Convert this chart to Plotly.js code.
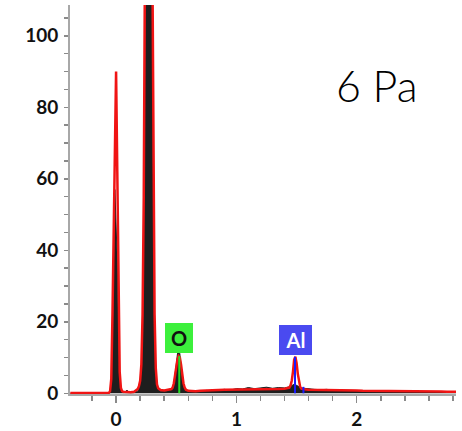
<!DOCTYPE html>
<html>
<head>
<meta charset="utf-8">
<script src="https://cdn.plot.ly/plotly-3.0.1.min.js"></script>
<style>html,body{margin:0;padding:0;background:#fff;}#chart{width:462px;height:431px;}</style>
</head>
<body>
<div id="chart"></div>
<script>
// Energy channels (keV)
const energy = [
  -0.38, -0.30, -0.20, -0.10, -0.06, -0.05, -0.04, -0.03, -0.02, -0.01,
   0.00,  0.01,  0.02,  0.03,  0.04,  0.05,  0.06,  0.08,  0.09,  0.10,
   0.12,  0.15,  0.18,  0.19,  0.20,  0.21,  0.22,  0.23,  0.24,  0.25,
   0.26,  0.27,  0.28,  0.29,  0.30,  0.31,  0.32,  0.33,  0.34,  0.35,
   0.37,  0.40,  0.43,  0.45,  0.46,  0.47,  0.48,  0.49,  0.50,  0.51,
   0.52,  0.53,  0.54,  0.55,  0.56,  0.57,  0.58,  0.60,  0.63,  0.66,
   0.70,  0.75,  0.80,  0.85,  0.90,  0.95,  1.00,  1.05,  1.10,  1.15,
   1.20,  1.25,  1.30,  1.35,  1.40,  1.42,  1.44,  1.45,  1.46,  1.47,
   1.48,  1.49,  1.50,  1.51,  1.52,  1.53,  1.54,  1.56,  1.60,  1.65,
   1.70,  1.75,  1.80,  1.85,  1.90,  1.95,  2.00,  2.05,  2.10,  2.15,
   2.20,  2.25,  2.30,  2.35,  2.40,  2.45,  2.50,  2.55,  2.60,  2.65,
   2.70,  2.75,  2.80,  2.83
];
// Measured counts (black spectrum)
const counts = [
  0, 0, 0, 0, 0, 0.5, 3, 14, 30, 57,
  48, 37, 15, 4, 1.2, 0.4, 0.2, 0.4, 0.9, 0.5,
  0.2, 0.2, 0.6, 1.2, 2.5, 6, 16, 54, 82, 190,
  270, 300, 270, 200, 85, 40, 14, 5, 2, 1,
  0.6, 0.5, 0.6, 0.8, 1.0, 1.5, 2.8, 5, 8, 11,
  12.6, 11, 7, 4, 2.2, 1.2, 0.8, 0.5, 0.4, 0.5,
  0.6, 0.8, 0.7, 1.0, 1.1, 0.9, 1.3, 1.2, 1.6, 1.3,
  1.5, 1.7, 1.4, 1.6, 1.5, 1.6, 1.8, 2.0, 2.2, 2.4,
  2.5, 2.4, 2.2, 2.0, 1.8, 1.6, 1.5, 1.4, 1.2, 1.1,
  1.0, 1.1, 0.9, 0.9, 0.8, 0.9, 0.8, 0.7, 0.8, 0.7,
  0.6, 0.7, 0.6, 0.5, 0.6, 0.5, 0.5, 0.4, 0.5, 0.4,
  0.4, 0.4, 0.3, 0.3
];
// Fitted spectrum (red)
const fit = [
  0.1, 0.1, 0.1, 0.1, 0.1, 0.6, 4, 22, 50, 78,
  90, 62, 22, 6, 1.5, 0.6, 0.4, 0.3, 0.4, 0.4,
  0.3, 0.4, 1.2, 2, 3.5, 8, 22, 55, 120, 220,
  300, 320, 300, 230, 130, 60, 22, 7, 2.5, 1.4,
  0.9, 0.8, 0.9, 1.0, 1.2, 1.6, 2.8, 5, 7.5, 9.5,
  10.4, 10, 8, 5, 2.8, 1.6, 1.0, 0.7, 0.6, 0.6,
  0.7, 0.7, 0.8, 0.9, 1.0, 1.0, 1.1, 1.1, 1.2, 1.2,
  1.2, 1.2, 1.2, 1.2, 1.3, 1.4, 1.6, 2.2, 3.5, 6,
  9.4, 10.2, 8.5, 5.5, 3, 1.8, 1.3, 1.1, 1.0, 1.0,
  1.0, 0.9, 0.9, 0.9, 0.8, 0.8, 0.8, 0.7, 0.7, 0.7,
  0.7, 0.6, 0.6, 0.6, 0.6, 0.5, 0.5, 0.5, 0.5, 0.5,
  0.5, 0.4, 0.4, 0.4
];
// Element marker lines
const oLineEnergy = [0.525];
const oLineHeight = [10.4];
const alLineEnergy = [1.487, 1.557];
const alLineHeight = [10.2, 1.8];
// Element labels
const elementLabels = ['O', 'Al'];
const labelEnergy = [0.525, 1.487];
const labelHeight = [15.5, 14.9];
const xTicks = [0, 1, 2];
const sampleLabel = '6 Pa';

function stems(xs, ys) {
  const x = [], y = [];
  xs.forEach((e, i) => { x.push(e, e, null); y.push(0, ys[i], null); });
  return {x, y};
}
const oS = stems(oLineEnergy, oLineHeight);
const alS = stems(alLineEnergy, alLineHeight);

const traces = [
  {x: energy, y: counts, type: 'scatter', mode: 'lines', fill: 'tozeroy',
   fillcolor: '#1e1e1e', line: {color: '#1e1e1e', width: 1}, hoverinfo: 'skip'},
  {x: energy, y: fit, type: 'scatter', mode: 'lines',
   line: {color: '#f01414', width: 2.5}, hoverinfo: 'skip'},
  {x: oS.x, y: oS.y, type: 'scatter', mode: 'lines',
   line: {color: '#22dd22', width: 2}, hoverinfo: 'skip'},
  {x: alS.x, y: alS.y, type: 'scatter', mode: 'lines',
   line: {color: '#1a1aff', width: 2}, hoverinfo: 'skip'}
];

const tickFont = {family: 'Lato, "Liberation Sans", sans-serif', size: 19, color: '#111', weight: 'bold'};
const boxColors = ['#3cf03c', '#4a4af0'];
const boxText = ['#111', '#ffffff'];
const boxWidths = [26, 31];

const annotations = elementLabels.map((t, i) => ({
  x: labelEnergy[i], y: labelHeight[i], xref: 'x', yref: 'y',
  text: t, showarrow: false, bgcolor: boxColors[i],
  width: boxWidths[i], height: 28, borderpad: 1, borderwidth: 0,
  font: {family: 'Lato, "Liberation Sans", sans-serif', size: 20, color: boxText[i], weight: 'bold'}
}));
annotations.push({
  x: 2.167, y: 86.2, xref: 'x', yref: 'y', text: sampleLabel, showarrow: false,
  font: {family: 'Lato, "Liberation Sans", sans-serif', size: 43, color: '#000', weight: 300}
});

const layout = {
  width: 462, height: 431,
  margin: {l: 70, r: 6, t: 5, b: 37},
  paper_bgcolor: '#fff', plot_bgcolor: '#fff',
  showlegend: false,
  xaxis: {
    range: [-0.383, 2.825], tickvals: xTicks, ticktext: xTicks.map(String),
    ticks: 'outside', ticklen: 7, tickwidth: 1.5, tickcolor: '#8a8a8a',
    showline: true, linecolor: '#a8a8a8', linewidth: 2,
    showgrid: false, zeroline: false, tickfont: tickFont,
    minor: {dtick: 0.2, tick0: 0, ticks: 'outside', ticklen: 5, tickwidth: 1.5, tickcolor: '#8a8a8a', showgrid: false}
  },
  yaxis: {
    range: [-0.2, 108.6], dtick: 20, tick0: 0,
    ticks: 'outside', ticklen: 4, tickwidth: 1.5, tickcolor: '#8a8a8a',
    showline: true, linecolor: '#a8a8a8', linewidth: 2,
    showgrid: false, zeroline: false, tickfont: tickFont, ticklabelstandoff: 2,
    minor: {dtick: 5, tick0: 0, ticks: 'outside', ticklen: 4, tickwidth: 1.5, tickcolor: '#8a8a8a', showgrid: false}
  },
  annotations: annotations
};

Plotly.newPlot('chart', traces, layout, {staticPlot: true, displayModeBar: false});
</script>
</body>
</html>
